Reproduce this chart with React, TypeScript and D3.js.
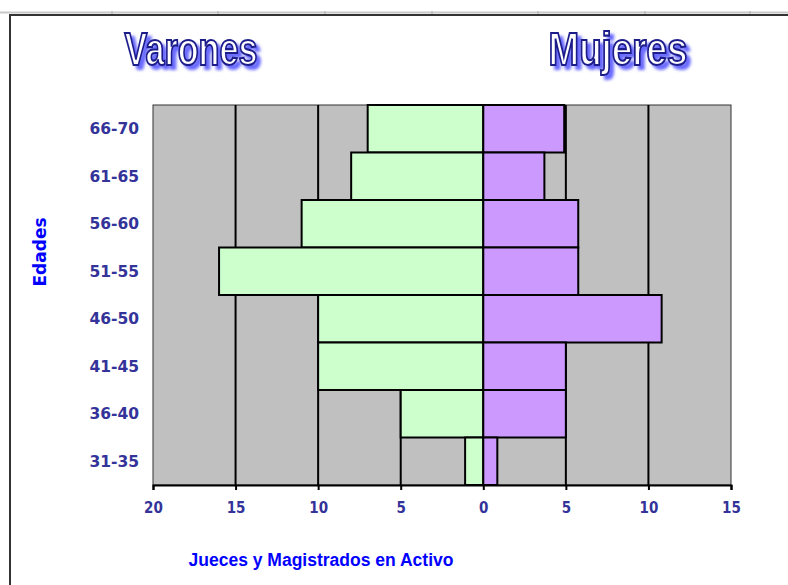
import { useEffect, useRef } from 'react'
import * as d3 from 'd3'

// age groups, top to bottom
const ages = ['66-70', '61-65', '56-60', '51-55', '46-50', '41-45', '36-40', '31-35']
const varones = [7, 8, 11, 16, 10, 10, 5, 1.1]
const mujeres = [4.9, 3.7, 5.75, 5.75, 10.8, 5, 5, 0.85]
const xTicks = [-20, -15, -10, -5, 0, 5, 10, 15]

const W = 788
const H = 585

const App = () => {
  const svgRef = useRef<SVGSVGElement>(null)

  useEffect(() => {
    if (!svgRef.current) return
    const svg = d3.select(svgRef.current)
    svg.selectAll('*').remove()

    const left = 153
    const right = 731
    const top = 105
    const bottom = 485

    const x = d3.scaleLinear().domain([-20, 15]).range([left, right])
    const y = d3.scaleBand().domain(ages).range([top, bottom]).padding(0)

    // Excel-ish frame
    svg.append('line').attr('x1', 0).attr('x2', W).attr('y1', 12.5).attr('y2', 12.5)
      .attr('stroke', '#c8c8c8').attr('stroke-width', 2)
    ;[112, 218, 325, 432, 538, 645, 750].forEach(cx => {
      svg.append('line').attr('x1', cx).attr('x2', cx).attr('y1', 11).attr('y2', 14)
        .attr('stroke', '#aaa')
    })
    svg.append('path').attr('d', `M10,${H} L10,15 L${W},15`)
      .attr('fill', 'none').attr('stroke', '#333').attr('stroke-width', 2)

    // Titles with blurred blue shadow
    const defs = svg.append('defs')
    defs.append('filter').attr('id', 'shadow')
      .attr('x', '-20%').attr('y', '-20%').attr('width', '140%').attr('height', '150%')
      .append('feDropShadow').attr('dx', 4).attr('dy', 4).attr('stdDeviation', 1.6)
      .attr('flood-color', '#5a5aff').attr('flood-opacity', 0.9)

    const titles = [
      { text: 'Varones', cx: 191, w: 133 },
      { text: 'Mujeres', cx: 618, w: 139 }
    ]
    titles.forEach(t => {
      svg.append('text').attr('x', t.cx - t.w / 2).attr('y', 65)
        .attr('textLength', t.w).attr('lengthAdjust', 'spacingAndGlyphs')
        .attr('font-family', 'Liberation Sans, Arial, sans-serif').attr('font-weight', 'bold')
        .attr('font-size', 46).attr('fill', '#ffffff').attr('stroke', '#1c1c8a')
        .attr('stroke-width', 2.2).attr('filter', 'url(#shadow)').text(t.text)
    })

    // plot background
    svg.append('rect').attr('x', left).attr('y', top).attr('width', right - left)
      .attr('height', bottom - top).attr('fill', '#c0c0c0')
      .attr('stroke', '#333').attr('stroke-width', 1)

    // gridlines
    svg.append('g').selectAll('line').data(xTicks.filter(d => d > -20 && d < 15)).enter()
      .append('line').attr('x1', d => x(d)).attr('x2', d => x(d))
      .attr('y1', top).attr('y2', bottom).attr('stroke', '#000').attr('stroke-width', 2)

    // bars
    const bars = svg.append('g')
    bars.selectAll('rect.v').data(ages).enter().append('rect').attr('class', 'v')
      .attr('x', (_d, i) => x(-varones[i]))
      .attr('y', d => y(d) || 0)
      .attr('width', (_d, i) => x(0) - x(-varones[i]))
      .attr('height', y.bandwidth())
      .attr('fill', '#ccffcc').attr('stroke', '#000').attr('stroke-width', 2)
    bars.selectAll('rect.m').data(ages).enter().append('rect').attr('class', 'm')
      .attr('x', x(0))
      .attr('y', d => y(d) || 0)
      .attr('width', (_d, i) => x(mujeres[i]) - x(0))
      .attr('height', y.bandwidth())
      .attr('fill', '#cc99ff').attr('stroke', '#000').attr('stroke-width', 2)

    // x axis
    const xAxis = svg.append('g').attr('transform', `translate(0,${bottom})`)
      .call(d3.axisBottom(x).tickValues(xTicks).tickSize(5).tickFormat(d => String(Math.abs(+d))))
    xAxis.select('.domain').attr('stroke', '#000').attr('stroke-width', 2)
    xAxis.selectAll('.tick line').attr('stroke', '#000').attr('stroke-width', 2)
    xAxis.selectAll('.tick text').attr('dy', 0).attr('y', 28)
      .attr('font-family', 'DejaVu Sans Condensed, DejaVu Sans, sans-serif').attr('font-weight', 'bold')
      .attr('font-size', 15).attr('fill', '#333399')

    // y labels
    svg.append('g').selectAll('text').data(ages).enter().append('text')
      .attr('x', 139).attr('y', d => (y(d) || 0) + y.bandwidth() / 2)
      .attr('dy', '0.35em').attr('text-anchor', 'end')
      .attr('font-family', 'DejaVu Sans, Verdana, sans-serif').attr('font-weight', 'bold')
      .attr('font-size', 15.5).attr('fill', '#333399').text(d => d)

    // axis titles
    svg.append('text').attr('transform', 'translate(46,252) rotate(-90)')
      .attr('text-anchor', 'middle').attr('font-family', 'DejaVu Sans, Verdana, sans-serif')
      .attr('font-weight', 'bold').attr('font-size', 17).attr('fill', '#0000ff').text('Edades')
    svg.append('text').attr('x', 321).attr('y', 566).attr('text-anchor', 'middle')
      .attr('font-family', 'Liberation Sans, Arial, sans-serif').attr('font-weight', 'bold')
      .attr('font-size', 17.5).attr('fill', '#0000ff').text('Jueces y Magistrados en Activo')
  }, [])

  return (
    <svg ref={svgRef} width={W} height={H}
      style={{ position: 'absolute', left: 0, top: 0, background: '#fff' }} />
  )
}

export default App
